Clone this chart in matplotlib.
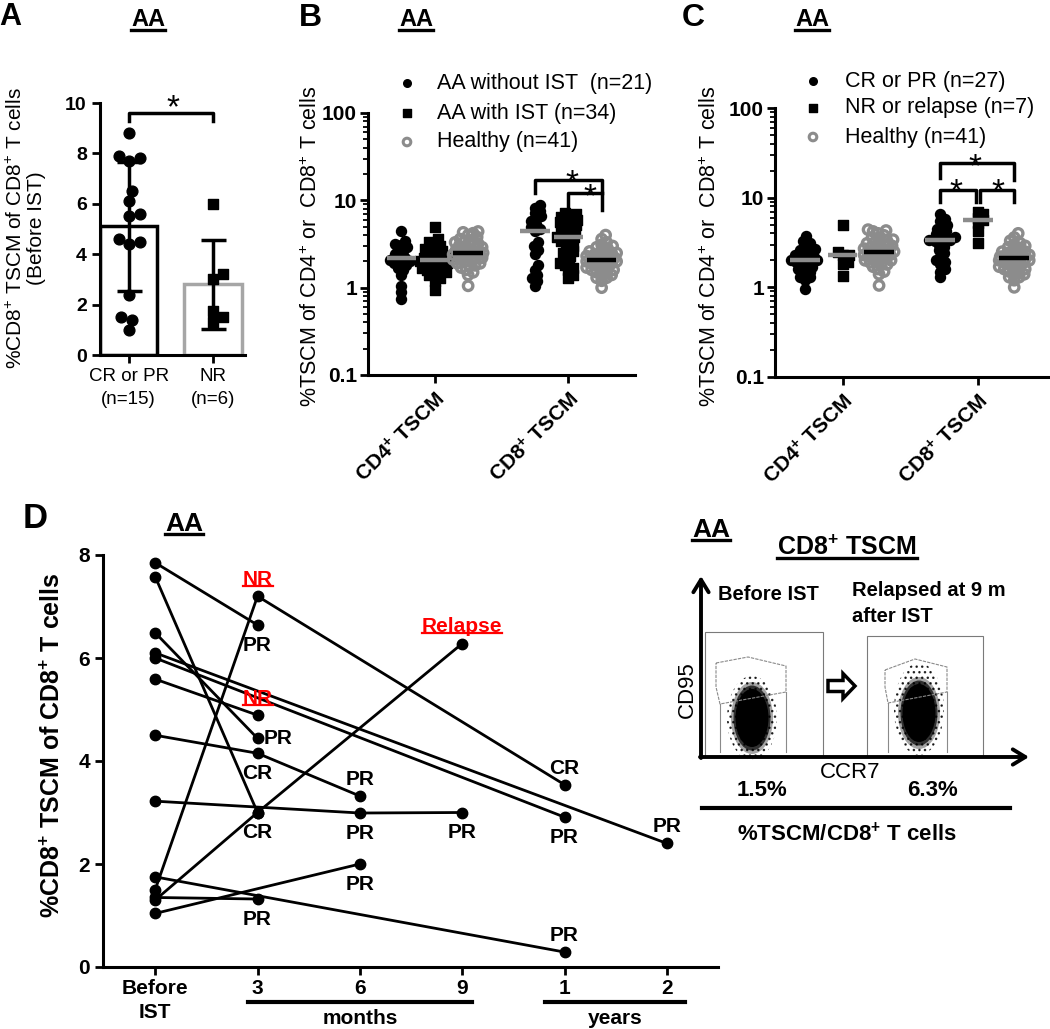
import numpy as np
import matplotlib
matplotlib.use("Agg")
import matplotlib.pyplot as plt
from matplotlib import patches as mpatches
from matplotlib import transforms as mtransforms
from matplotlib.ticker import LogLocator, FixedLocator, FixedFormatter, NullFormatter

plt.rcParams['font.family'] = ['Liberation Sans', 'DejaVu Sans']
plt.rcParams['mathtext.fontset'] = 'custom'
plt.rcParams['mathtext.rm'] = 'Liberation Sans'
plt.rcParams['mathtext.bf'] = 'Liberation Sans:bold'
plt.rcParams['mathtext.default'] = 'regular'
plt.rcParams['hatch.linewidth'] = 1.0

# ---------------- data: panel A
a_groups = ['CR or PR\n(n=15)', 'NR\n(n=6)']
a_means = [5.1, 2.8]
a_sd = [2.55, 1.77]
a_cr = [8.8, 7.8, 7.9, 7.7, 6.5, 6.1, 5.6, 5.5, 4.6, 4.4, 4.5, 2.4, 1.5, 1.4, 1.0]
a_nr = [6.0, 3.2, 3.0, 1.75, 1.3, 1.5]

# ---------------- data: panel B (log scale)
b_labels = ['AA without IST  (n=21)', 'AA with IST (n=34)', 'Healthy (n=41)']
b_cd4_without = [4.4, 3.4, 3.2, 3.1, 2.9, 2.7, 2.6, 2.4, 2.3, 2.2, 2.1, 2.0, 2.0, 1.9,
                 1.8, 1.7, 1.6, 1.4, 1.05, 0.9, 0.75]
b_cd4_with = [5.0, 3.6, 3.3, 3.2, 3.0, 2.9, 2.8, 2.7, 2.6, 2.5, 2.4, 2.3, 2.3, 2.2, 2.2,
              2.1, 2.1, 2.0, 2.0, 1.9, 1.9, 1.8, 1.8, 1.7, 1.7, 1.6, 1.6, 1.5, 1.5, 1.4,
              1.4, 1.3, 1.2, 0.95]
healthy_cd4 = [4.4, 4.3, 4.2, 4.0, 3.8, 3.6, 3.5, 3.4, 3.3, 3.2, 3.1, 3.0, 2.9, 2.9, 2.8,
               2.7, 2.7, 2.6, 2.6, 2.5, 2.5, 2.5, 2.4, 2.4, 2.3, 2.3, 2.2, 2.2, 2.1, 2.1,
               2.0, 2.0, 1.9, 1.9, 1.8, 1.8, 1.7, 1.6, 1.5, 1.4, 1.05]
b_cd8_without = [8.8, 8.2, 7.6, 7.1, 6.6, 6.2, 5.8, 5.4, 5.0, 4.7, 4.5, 3.3, 3.0, 2.7,
                 2.4, 1.8, 1.6, 1.4, 1.3, 1.2, 1.05]
b_cd8_with = [7.2, 7.0, 6.8, 6.5, 6.2, 6.0, 5.8, 5.6, 5.4, 5.2, 5.0, 4.8, 4.6, 4.4, 4.2,
              4.0, 3.8, 3.8, 3.6, 3.4, 3.2, 3.0, 2.8, 2.6, 2.5, 2.3, 2.2, 2.0, 1.9, 1.8,
              1.7, 1.6, 1.4, 1.3]
healthy_cd8 = [4.0, 3.6, 3.3, 3.1, 3.0, 2.9, 2.8, 2.7, 2.6, 2.5, 2.5, 2.4, 2.4, 2.3, 2.3,
               2.3, 2.2, 2.2, 2.2, 2.1, 2.1, 2.1, 2.0, 2.0, 2.0, 1.9, 1.9, 1.8, 1.8, 1.7,
               1.7, 1.6, 1.6, 1.5, 1.5, 1.4, 1.4, 1.3, 1.3, 1.2, 1.0]
b_medians_cd4 = [2.2, 2.1, 2.5]
b_medians_cd8 = [4.5, 3.8, 2.1]

# ---------------- data: panel C (log scale)
c_labels = ['CR or PR (n=27)', 'NR or relapse (n=7)', 'Healthy (n=41)']
c_cd4_crpr = [3.7, 3.3, 3.1, 2.9, 2.7, 2.6, 2.5, 2.4, 2.3, 2.2, 2.1, 2.1, 2.0, 2.0, 2.0,
              1.9, 1.9, 1.8, 1.7, 1.6, 1.6, 1.5, 1.4, 1.3, 1.3, 1.2, 0.95]
c_cd4_nr = [5.0, 2.5, 2.3, 2.3, 1.9, 1.8, 1.35]
c_cd8_crpr = [6.5, 5.8, 5.5, 5.0, 4.7, 4.5, 4.3, 4.1, 3.9, 3.7, 3.6, 3.5, 3.4, 3.4, 3.3,
              3.2, 3.0, 2.8, 2.6, 2.4, 2.2, 2.0, 1.9, 1.8, 1.6, 1.5, 1.3]
c_cd8_nr = [7.0, 6.5, 6.0, 5.6, 5.2, 4.2, 3.1]
c_medians_cd4 = [2.0, 2.3, 2.5]
c_medians_cd8 = [3.4, 5.6, 2.1]

cat_labels = [r'CD4$^\mathbf{+}$ TSCM', r'CD8$^\mathbf{+}$ TSCM']

# ---------------- data: panel D (time course per patient)
d_ticks = ['Before\nIST', '3', '6', '9', '1', '2']
d_times = [[0, 1], [0, 1], [0, 1, 4], [0, 1], [0, 5], [0, 4], [0, 1],
           [0, 1, 2], [0, 2, 3], [0, 1, 3], [0, 4], [0, 1], [0, 2]]
d_values = [[7.85, 6.64], [7.58, 3.0], [1.5, 7.2, 3.54], [6.49, 4.44], [6.1, 2.4],
            [6.0, 2.91], [5.59, 4.89], [4.5, 4.15, 3.32], [3.22, 2.99, 3.0],
            [1.3, 3.0, 6.28], [1.75, 0.29], [1.35, 1.32], [1.04, 2.0]]
d_response = [['PR'], ['CR'], ['NR', 'CR'], ['PR'], ['PR'], ['PR'], ['NR'],
              ['CR', 'PR'], ['PR', 'PR'], ['', 'Relapse'], ['PR'], ['PR'], ['PR']]
d_label_side = [['below'], ['below'], ['above', 'above'], ['right'], ['above'], ['below'],
                ['above'], ['below', 'above'], ['below', 'below'], ['below', 'above'],
                ['above'], ['below'], ['below']]

flow_pct = ['1.5%', '6.3%']

# ---------------- figure
W, H = 1050, 1029
fig = plt.figure(figsize=(W / 100, H / 100), dpi=100)


def add_ax(l, t, r, b):
    return fig.add_axes([l / W, 1 - b / H, (r - l) / W, (b - t) / H])


def P(x, y):
    return x / W, 1 - y / H


def base_style(ax):
    for s in ['top', 'right']:
        ax.spines[s].set_visible(False)
    for s in ['left', 'bottom']:
        ax.spines[s].set_linewidth(2.2)
    ax.tick_params(which='major', length=6, width=2.0, direction='out')
    ax.patch.set_alpha(0)


def swarm(ax, xc, vals, diam, maxw, mind):
    # spread points sideways (pixel space) so they overlap less, like a scatter dot plot
    vals = np.asarray(vals, float)
    disp = ax.transData.transform(np.column_stack([np.full(len(vals), xc), vals]))
    ys = disp[:, 1]
    x0 = disp[0, 0]
    order = np.argsort(ys)
    cands = sorted(np.arange(-maxw, maxw + 0.01, 1.0), key=lambda c: (abs(c), c < 0))
    px, py = [], []
    xs = np.zeros(len(vals))
    for i in order:
        y = ys[i]
        best, bestc, bestd = None, 0.0, -1
        for c in cands:
            d = min([np.hypot(c - a, y - b) for a, b in zip(px, py)] or [1e9])
            if d >= mind * diam:
                best = c
                break
            if d > bestd:
                bestd, bestc = d, c
        if best is None:
            best = bestc
        px.append(best)
        py.append(y)
        xs[i] = best
    back = ax.transData.inverted().transform(np.column_stack([x0 + xs, ys]))
    return back[:, 0]


GRAY = '#8c8c8c'

# ================= Panel A
axA = add_ax(100, 103, 245, 355)
base_style(axA)
axA.set_xlim(-0.34, 1.38)
axA.set_ylim(0, 10)
axA.bar([0, 1], a_means, width=0.68, color='white', edgecolor=['black', '#a6a6a6'],
        linewidth=2.5, zorder=1)
xa = swarm(axA, 0, a_cr, 11, 16, 0.95)
axA.scatter(xa, a_cr, s=60, marker='o', color='black', zorder=2, clip_on=False)
xb = swarm(axA, 1, a_nr, 11, 16, 0.95)
axA.scatter(xb, a_nr, s=55, marker='s', color='black', zorder=2, clip_on=False)
axA.errorbar([0, 1], a_means, yerr=a_sd, fmt='none', ecolor='black', elinewidth=2.5,
             capsize=9, capthick=2.5, zorder=3)
axA.set_yticks([0, 2, 4, 6, 8, 10])
axA.set_yticklabels(['0', '2', '4', '6', '8', '10'], fontsize=14, fontweight='bold')
axA.set_xticks([0, 1])
axA.set_xticklabels(a_groups, fontsize=13.5, linespacing=1.45)
axA.plot([0, 0, 1, 1], [9.3, 9.6, 9.6, 9.3], color='black', lw=2.5, clip_on=False)
axA.text(0.53, 9.17, '*', fontsize=24, ha='center', va='bottom')
fig.text(*P(26, 228), '%CD8$^{+}$ TSCM of CD8$^{+}$ T cells\n(Before IST)', rotation=90,
         ha='center', va='center', multialignment='center', fontsize=15, linespacing=1.1)


# ================= Panels B & C
def log_axes(ax):
    base_style(ax)
    ax.set_yscale('log')
    ax.set_ylim(0.1, 100)
    ax.yaxis.set_major_locator(FixedLocator([0.1, 1, 10, 100]))
    ax.yaxis.set_major_formatter(FixedFormatter(['0.1', '1', '10', '100']))
    ax.yaxis.set_minor_locator(LogLocator(base=10, subs=np.arange(2, 10)))
    ax.yaxis.set_minor_formatter(NullFormatter())
    ax.tick_params(which='minor', length=3.5, width=1.3)
    ax.tick_params(axis='y', labelsize=15, pad=2)
    for t in ax.get_yticklabels():
        t.set_fontweight('bold')
    ax.set_xticks([1, 2])
    ax.set_xticklabels(cat_labels, rotation=45, ha='right', rotation_mode='anchor',
                       fontsize=15, fontweight='bold')


def draw_groups(ax, groups, offsets, medians, xc):
    kinds = ['circle', 'square', 'ring']
    for vals, off, med, kind in zip(groups, offsets, medians, kinds):
        xs = swarm(ax, xc + off, vals, 10, 15, 0.52)
        if kind == 'circle':
            ax.scatter(xs, vals, s=52, marker='o', color='black', zorder=2)
        elif kind == 'square':
            ax.scatter(xs, vals, s=45, marker='s', color='black', zorder=2)
        else:
            ax.scatter(xs, vals, s=46, marker='o', facecolors='none', edgecolors=GRAY,
                       linewidths=2.4, zorder=2)
        ax.plot([xc + off - 0.11, xc + off + 0.11], [med, med],
                color='black' if kind == 'ring' else GRAY, lw=3.2, zorder=3,
                solid_capstyle='butt')


def bracket(ax, x1, x2, ytop, yl, yr):
    ax.plot([x1, x1, x2, x2], [yl, ytop, ytop, yr], color='black', lw=2.5, clip_on=False,
            zorder=4)


axB = add_ax(368, 113, 635, 375)
axB.set_xlim(0.5, 2.5)
log_axes(axB)
b_off = [-0.25, 0.0, 0.25]
draw_groups(axB, [b_cd4_without, b_cd4_with, healthy_cd4], b_off, b_medians_cd4, 1)
draw_groups(axB, [b_cd8_without, b_cd8_with, healthy_cd8], b_off, b_medians_cd8, 2)
bracket(axB, 1.75, 2.25, 17.1, 12.2, 7.8)
bracket(axB, 2.0, 2.25, 12.2, 7.8, 12.2)
axB.text(2.03, 10.4, '*', fontsize=24, ha='center', va='bottom', zorder=5)
axB.text(2.16, 7.2, '*', fontsize=24, ha='center', va='bottom', zorder=5)
fig.text(*P(311, 246), '%TSCM of CD4$^{+}$ or  CD8$^{+}$ T cells', rotation=90,
         ha='center', va='center', fontsize=15.5)

axC = add_ax(775, 108, 1048, 377)
axC.set_xlim(0.5, 2.52)
log_axes(axC)
c_off = [-0.28, 0.0, 0.27]
draw_groups(axC, [c_cd4_crpr, c_cd4_nr, healthy_cd4], c_off, c_medians_cd4, 1)
draw_groups(axC, [c_cd8_crpr, c_cd8_nr, healthy_cd8], c_off, c_medians_cd8, 2)
bracket(axC, 1.72, 2.27, 24.3, 16.5, 15.7)
bracket(axC, 1.72, 1.99, 12.2, 8.9, 8.9)
bracket(axC, 2.02, 2.27, 12.2, 8.9, 8.9)
axC.text(1.98, 14.6, '*', fontsize=24, ha='center', va='bottom', zorder=5)
axC.text(1.84, 7.66, '*', fontsize=24, ha='center', va='bottom', zorder=5)
axC.text(2.15, 7.66, '*', fontsize=24, ha='center', va='bottom', zorder=5)
fig.text(*P(710, 246), '%TSCM of CD4$^{+}$ or  CD8$^{+}$ T cells', rotation=90,
         ha='center', va='center', fontsize=15.5)

# ================= Panel D
axD = add_ax(103, 555, 718, 967)
base_style(axD)
axD.set_xlim(-0.51, 5.5)
axD.set_ylim(0, 8)
axD.set_yticks([0, 2, 4, 6, 8])
axD.set_yticklabels(['0', '2', '4', '6', '8'], fontsize=15, fontweight='bold')
axD.set_xticks(range(len(d_ticks)))
axD.set_xticklabels(d_ticks, fontsize=15, fontweight='bold', linespacing=1.3)
axD.tick_params(axis='x', pad=3)
side_off = {'above': (0, 12, 'center', 'center'), 'below': (0, -14.5, 'center', 'center'),
            'right': (4.5, 0, 'left', 'center')}
red_texts = []
for times, vals, resp, sides in zip(d_times, d_values, d_response, d_label_side):
    axD.plot(times, vals, '-o', color='black', lw=2, ms=7.5, clip_on=False, zorder=3)
    for t, v, r, sd in zip(times[1:], vals[1:], resp, sides):
        if not r:
            continue
        dx, dy, ha, va = side_off[sd]
        red = r in ('NR', 'Relapse')
        tx = axD.annotate(r, (t, v), xytext=(dx, dy), textcoords='offset points',
                          ha=ha, va=va, fontsize=15, fontweight='bold',
                          color='#ff0000' if red else 'black', zorder=5)
        if red:
            red_texts.append(tx)
fig.text(*P(53, 745), '%CD8$^\\mathbf{+}$ TSCM of CD8$^\\mathbf{+}$ T cells', rotation=90,
         ha='center', va='center', fontsize=18, fontweight='bold')
blend = mtransforms.blended_transform_factory(axD.transData, axD.transAxes)
axD.plot([0.91, 3.1], [-0.085, -0.085], transform=blend, color='black', lw=3, clip_on=False)
axD.plot([3.81, 5.18], [-0.085, -0.085], transform=blend, color='black', lw=3, clip_on=False)
axD.text(2.0, -0.124, 'months', transform=blend, ha='center', va='center', fontsize=15,
         fontweight='bold')
axD.text(4.5, -0.124, 'years', transform=blend, ha='center', va='center', fontsize=15,
         fontweight='bold')

# ================= overlay (titles, legends, flow schematic), pixel coords
ov = fig.add_axes([0, 0, 1, 1])
ov.set_xlim(0, W)
ov.set_ylim(H, 0)
ov.axis('off')
ov.patch.set_alpha(0)

for lab, x, y, fs in [('A', 10, 17, 22), ('B', 310, 18, 23), ('C', 693, 18, 23), ('D', 35, 518, 25)]:
    ov.text(x, y, lab, fontsize=fs, fontweight='bold', ha='center', va='center')
under_texts = []
for x, y, fs, s in [(148, 20, 17, 'AA'), (416, 20, 17, 'AA'), (812, 20, 17, 'AA'),
                    (184, 524, 19, 'AA'), (711, 530, 19, 'AA'),
                    (847, 548, 18, 'CD8$^\\mathbf{+}$ TSCM')]:
    under_texts.append(ov.text(x, y, s, fontsize=fs, fontweight='bold', ha='center', va='center'))

# legends B and C
for x_m, x_t, rows, labs in [(407, 437, [83, 113, 142], b_labels),
                             (813, 845, [81, 108, 137], c_labels)]:
    ov.scatter([x_m], [rows[0]], s=30, marker='o', color='black')
    ov.scatter([x_m], [rows[1]], s=26, marker='s', color='black')
    ov.scatter([x_m], [rows[2]], s=30, marker='o', facecolors='none', edgecolors=GRAY,
               linewidths=2.2)
    for yy, lb in zip(rows, labs):
        ov.text(x_t, yy, lb, fontsize=15.5, ha='left', va='center')

# flow cytometry schematic
box_l = [(705, 632), (823, 757)]
box_r = [(867, 636), (983, 757)]
gate_l = [(716, 663), (748, 657), (786, 666), (786, 692), (720, 704), (716, 687), (716, 663)]
gate_r = [(885, 670), (915, 659), (947, 667), (947, 692), (888, 703), (885, 687), (885, 670)]
cloud_l = (752, 718)
cloud_r = (919, 713)
for (x0, y0), (x1, y1) in [box_l, box_r]:
    ov.add_patch(mpatches.Rectangle((x0, y0), x1 - x0, y1 - y0, fill=False, ec='#7a7a7a', lw=0.8))
for gate in [gate_l, gate_r]:
    gx, gy = zip(*gate)
    ov.plot(gx, gy, color='#8a8a8a', lw=0.8, ls=(0, (3, 1)))
    ov.plot([gate[4][0], gate[4][0]], [gate[4][1], 752], color='#8a8a8a', lw=0.8)
    ov.plot([gate[3][0], gate[3][0]], [gate[3][1], 752], color='#8a8a8a', lw=0.8)
for (cx, cy), extra in [(cloud_l, 0), (cloud_r, 8)]:
    ov.add_patch(mpatches.Ellipse((cx, cy - extra / 2), 50, 84 + extra, fill=False,
                                  hatch='...', ec='black', lw=0, alpha=0.8))
    for w, h, a in [(42, 72, 0.35), (37, 65, 0.7), (33, 58, 1.0)]:
        ov.add_patch(mpatches.Ellipse((cx, cy), w, h, fc='black', ec='none', alpha=a))
ov.add_patch(mpatches.FancyArrow(828, 686, 27, 0, width=11, head_width=25, head_length=12,
                                 length_includes_head=True, fc='white', ec='black', lw=2.5))
arw = dict(arrowstyle='->,head_length=0.9,head_width=0.55', lw=2.8, color='black',
           shrinkA=0, shrinkB=0)
ov.annotate('', xy=(701, 576), xytext=(701, 758), arrowprops=arw)
ov.annotate('', xy=(1029, 757), xytext=(700, 757), arrowprops=arw)
ov.text(718, 594, 'Before IST', fontsize=14.5, fontweight='bold', ha='left', va='center')
ov.text(852, 581, 'Relapsed at 9 m\nafter IST', fontsize=14.5, fontweight='bold',
        ha='left', va='top', linespacing=1.45)
ov.text(687, 690, 'CD95', rotation=90, fontsize=16, ha='center', va='center')
ov.text(850, 772, 'CCR7', fontsize=16, ha='center', va='center')
ov.text(762, 791, flow_pct[0], fontsize=16, fontweight='bold', ha='center', va='center')
ov.text(933, 791, flow_pct[1], fontsize=16, fontweight='bold', ha='center', va='center')
ov.plot([702, 1010], [808, 808], color='black', lw=3)
ov.text(847, 834, '%TSCM/CD8$^\\mathbf{+}$ T cells', fontsize=16, fontweight='bold',
        ha='center', va='center')

# underlines measured from rendered text
fig.canvas.draw()
rend = fig.canvas.get_renderer()
inv = ov.transData.inverted()
for tt in under_texts:
    bb = tt.get_window_extent(rend)
    (xa0, ya0), (xa1, _) = inv.transform([(bb.x0, bb.y0 + 2), (bb.x1, bb.y0 + 2)])
    ov.plot([xa0, xa1], [ya0, ya0], color='black', lw=2.4)
for tt in red_texts:
    bb = tt.get_window_extent(rend)
    (xa0, ya0), (xa1, _) = inv.transform([(bb.x0, bb.y0 + 3), (bb.x1, bb.y0 + 3)])
    ov.plot([xa0, xa1], [ya0, ya0], color='#ff0000', lw=1.6)

fig.savefig('out.png', dpi=100)
